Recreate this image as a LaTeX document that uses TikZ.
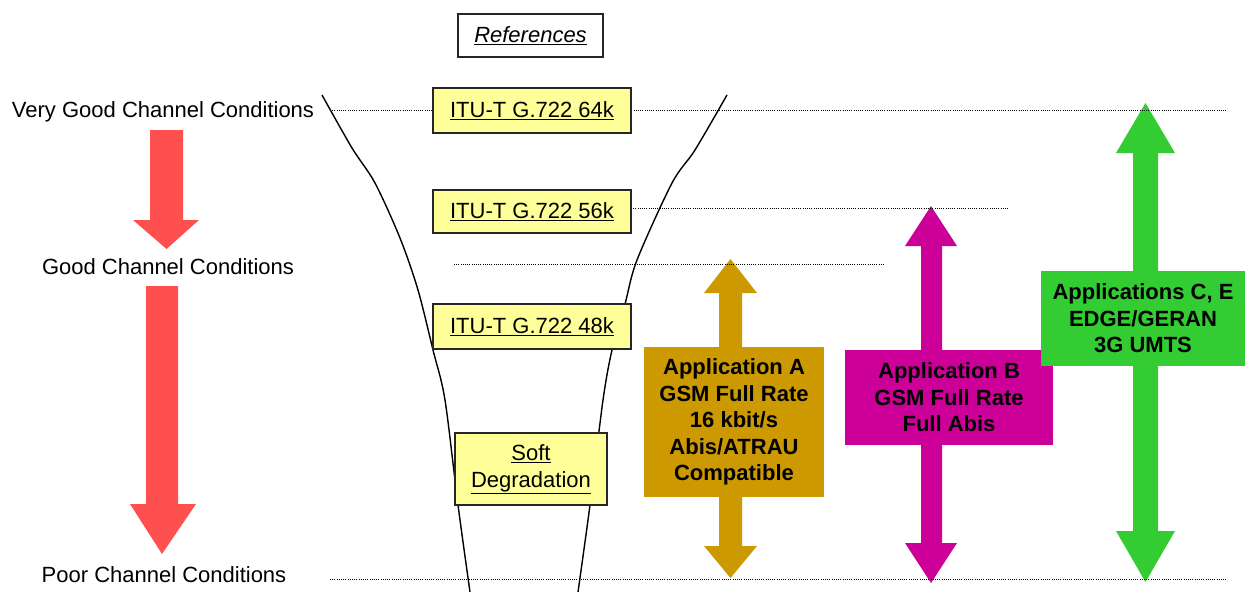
\documentclass[tikz,border=0pt]{standalone}
\usepackage{fontspec}
\setmainfont{Liberation Sans}
\definecolor{redarr}{HTML}{FF5050}
\definecolor{goldarr}{HTML}{CC9900}
\definecolor{magarr}{HTML}{CC0099}
\definecolor{grnarr}{HTML}{33CC33}
\definecolor{yelbox}{HTML}{FFFF99}
\begin{document}
\begin{tikzpicture}[x=1pt,y=-1pt,
  every node/.style={font=\fontsize{22}{26.5}\selectfont, inner sep=0pt},
  refbox/.style={draw=black!85, line width=1.3pt, fill=yelbox, align=center},
  appbox/.style={align=center, font=\fontsize{22}{26.5}\selectfont\bfseries},
  dotline/.style={line width=1pt, dash pattern=on 1pt off 1.2pt},
  funnel/.style={line width=1.4pt}]
\useasboundingbox (0,0) rectangle (1245,592);
% left labels
\node[anchor=base] (vgood) at (163,117.5) {Very Good Channel Conditions};
\node[anchor=base] (good) at (168,274.5) {Good Channel Conditions};
\node[anchor=base] (poor) at (164,582.5) {Poor Channel Conditions};
% red arrows
\fill[redarr] (150,130) -- (183,130) -- (183,220) -- (199,220) -- (166.5,249) -- (133,220) -- (150,220) -- cycle;
\fill[redarr] (146,286) -- (178,286) -- (178,504) -- (196,504) -- (162,554) -- (130,504) -- (146,504) -- cycle;
% funnel
\draw[funnel] plot[smooth, tension=0.5] coordinates {(322,95) (352,148) (375,183) (400,238) (418,290) (433,350) (445,400) (458,505) (470,592)};
\draw[funnel] plot[smooth, tension=0.5] coordinates {(727,95) (695,150) (672,183) (637,260) (625,304) (612,350) (603,400) (590,505) (578,592)};
% double arrows
\fill[goldarr] (730.5,259) -- (757,293) -- (742,293) -- (742,546) -- (757,546) -- (730.5,578) -- (704,546) -- (719,546) -- (719,293) -- (704,293) -- cycle;
\fill[magarr] (931,206) -- (957,246) -- (942,246) -- (942,543) -- (957,543) -- (931,583) -- (905,543) -- (921,543) -- (921,246) -- (905,246) -- cycle;
\fill[grnarr] (1145.5,103) -- (1175,153) -- (1158,153) -- (1158,531) -- (1175,531) -- (1145.5,582) -- (1116,531) -- (1133,531) -- (1133,153) -- (1116,153) -- cycle;
% dotted lines
\draw[dotline] (330,110) -- (1227,110);
\draw[dotline] (631,208) -- (1008,208);
\draw[dotline] (454,264) -- (884,264);
\draw[dotline] (330,579) -- (1227,579);
% boxes
\node[draw=black!85, line width=1.3pt, fill=white, minimum width=145pt, minimum height=43pt] (refs) at (530.5,35.5) {\underline{\itshape References}};
\node[refbox, minimum width=198pt, minimum height=45pt] (g64) at (532,110.5) {\underline{ITU-T G.722 64k}};
\node[refbox, minimum width=198pt, minimum height=43pt] (g56) at (532,211.5) {\underline{ITU-T G.722 56k}};
\node[refbox, minimum width=198pt, minimum height=45pt] (g48) at (532,326.5) {\underline{ITU-T G.722 48k}};
\node[refbox, minimum width=152pt, minimum height=72pt] (soft) at (531,469) {\underline{Soft}\\[0.5pt]\underline{Degradation}};
\node[appbox, fill=goldarr, minimum width=180pt, minimum height=150pt] (appA) at (734,422) {Application A\\GSM Full Rate\\16 kbit/s\\Abis/ATRAU\\Compatible};
\node[appbox, fill=magarr, minimum width=208pt, minimum height=95pt] (appB) at (949,397.5) {Application B\\GSM Full Rate\\Full Abis};
\node[appbox, fill=grnarr, minimum width=204pt, minimum height=95pt] (appC) at (1143,318.5) {Applications C, E\\EDGE/GERAN\\3G UMTS};
\end{tikzpicture}
\end{document}
